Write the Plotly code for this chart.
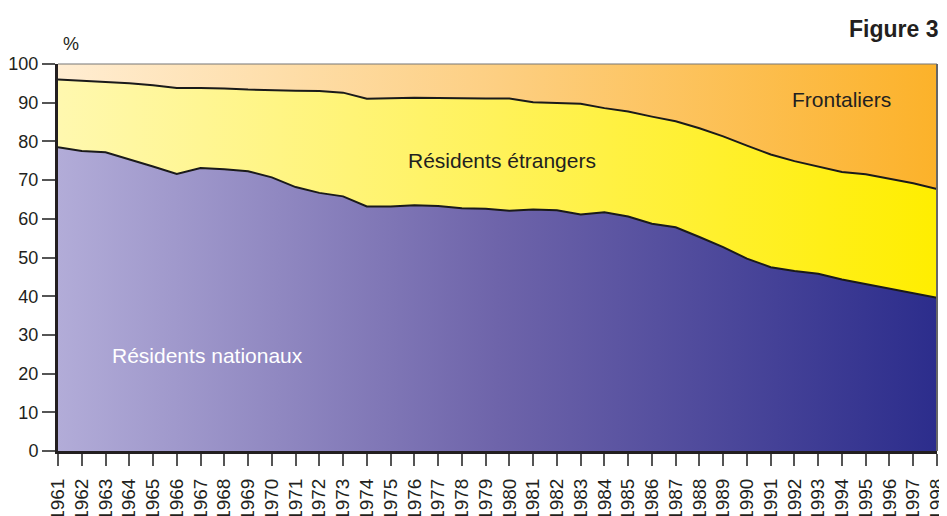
import plotly.graph_objects as go

years = list(range(1961, 1999))

# Share of employment (%) by category
nationaux = [78.5, 77.5, 77.2, 75.4, 73.5, 71.6, 73.1, 72.8, 72.3, 70.7,
             68.2, 66.7, 65.8, 63.2, 63.2, 63.5, 63.3, 62.7, 62.6, 62.1,
             62.4, 62.2, 61.1, 61.7, 60.6, 58.7, 57.8, 55.3, 52.7, 49.7,
             47.5, 46.5, 45.8, 44.3, 43.1, 41.9, 40.7, 39.6]
etrangers = [17.5, 18.2, 18.1, 19.6, 21.0, 22.2, 20.7, 20.9, 21.1, 22.5,
             24.9, 26.3, 26.8, 27.8, 27.9, 27.8, 27.9, 28.4, 28.5, 29.0,
             27.7, 27.7, 28.6, 26.9, 27.1, 27.7, 27.4, 28.1, 28.6, 29.2,
             29.1, 28.4, 27.7, 27.8, 28.4, 28.5, 28.5, 28.1]
frontaliers = [round(100 - a - b, 1) for a, b in zip(nationaux, etrangers)]

yticks = list(range(0, 101, 10))

FONT = "Liberation Sans, Arial, sans-serif"

fig = go.Figure()
fig.add_trace(go.Scatter(
    x=years, y=nationaux, name="Résidents nationaux", stackgroup="s",
    mode="lines", line=dict(color="#1a1a1a", width=2),
    fillgradient=dict(type="horizontal",
                      colorscale=[[0, "rgb(178,172,216)"], [0.5, "rgb(110,100,170)"], [1, "rgb(44,45,140)"]]),
))
fig.add_trace(go.Scatter(
    x=years, y=etrangers, name="Résidents étrangers", stackgroup="s",
    mode="lines", line=dict(color="#1a1a1a", width=2),
    fillgradient=dict(type="horizontal",
                      colorscale=[[0, "rgb(255,248,175)"], [0.5, "rgb(255,242,90)"], [1, "rgb(255,238,0)"]]),
))
fig.add_trace(go.Scatter(
    x=years, y=frontaliers, name="Frontaliers", stackgroup="s",
    mode="lines", line=dict(color="rgba(0,0,0,0)", width=0),
    fillgradient=dict(type="horizontal",
                      colorscale=[[0, "rgb(255,237,210)"], [0.5, "rgb(253,207,130)"], [1, "rgb(252,178,42)"]]),
))

fig.update_layout(
    width=939, height=508,
    margin=dict(l=50, r=10, t=56, b=65),
    paper_bgcolor="white", plot_bgcolor="white",
    showlegend=False,
    font=dict(family=FONT, size=18, color="#231f20"),
    xaxis=dict(
        range=[1961, 1998], tickmode="array", tickvals=years,
        ticktext=[str(y) for y in years], tickangle=-90,
        ticks="outside", ticklen=12, tickwidth=1.5, tickcolor="#555",
        ticklabelstandoff=5, ticklabeloverflow="allow",
        showline=True, linecolor="#231f20", linewidth=3,
        showgrid=False, zeroline=False, automargin=False,
        tickfont=dict(size=19),
    ),
    yaxis=dict(
        range=[0, 100], tickmode="array", tickvals=yticks,
        ticks="outside", ticklen=13, tickwidth=1.5, tickcolor="#555",
        showline=True, linecolor="#231f20", linewidth=3,
        showgrid=False, zeroline=False, automargin=False,
        tickfont=dict(size=18),
    ),
    shapes=[
        dict(type="line", xref="paper", yref="paper", x0=0, x1=1, y0=1, y1=1,
             line=dict(color="#777", width=1.2)),
        dict(type="line", xref="paper", yref="paper", x0=1, x1=1, y0=0, y1=1,
             line=dict(color="#666", width=2)),
    ],
    annotations=[
        dict(text="%", xref="paper", yref="paper", x=0.015, y=1.0, yshift=8,
             xanchor="center", yanchor="bottom", showarrow=False, font=dict(size=18)),
        dict(text="<b>Figure 3</b>", xref="paper", yref="paper", x=1.003, y=1.0, yshift=20,
             xanchor="right", yanchor="bottom", showarrow=False, font=dict(size=23)),
        dict(text="Frontaliers", x=1994.0, y=90.8, showarrow=False,
             xanchor="center", yanchor="middle", font=dict(size=21)),
        dict(text="Résidents étrangers", x=1979.7, y=75.0, showarrow=False,
             xanchor="center", yanchor="middle", font=dict(size=21)),
        dict(text="Résidents nationaux", x=1967.3, y=24.8, showarrow=False,
             xanchor="center", yanchor="middle", font=dict(size=21, color="white")),
    ],
)

fig.write_html("out.html")
